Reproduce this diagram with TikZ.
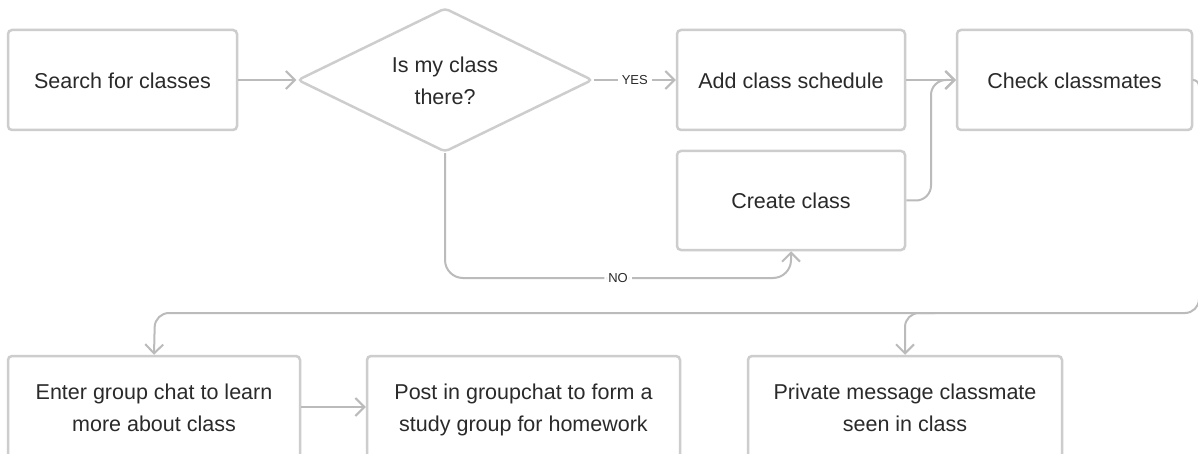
\documentclass[tikz,border=0pt]{standalone}
\usepackage{fontspec}
\setmainfont{Liberation Sans}
\usetikzlibrary{shapes.geometric,arrows.meta}
\definecolor{boxline}{HTML}{CDCDCD}
\definecolor{conn}{HTML}{BBBBBB}
\definecolor{txt}{HTML}{2A2A2A}
\newcommand\lnstrut{\rule[-7.5pt]{0pt}{32pt}}
\begin{document}
\begin{tikzpicture}[x=1pt,y=-1pt,
  box/.style={draw=boxline, line width=2.5pt, rounded corners=4pt, minimum width=229pt,
    minimum height=100pt, text=txt, font=\fontsize{21.5}{32}\selectfont, align=center, inner sep=0pt},
  dec/.style={diamond, draw=boxline, line width=2.5pt, rounded corners=4pt, aspect=2.05,
    minimum width=295pt, minimum height=144pt, text=txt, font=\fontsize{21.5}{32}\selectfont,
    align=center, inner sep=0pt},
  conn/.style={draw=conn, line width=2pt, -{Straight Barb[length=9pt,width=18pt]}},
  lbl/.style={fill=white, text=txt, font=\fontsize{13}{15}\selectfont, inner sep=4pt}
]
\useasboundingbox (0,0) rectangle (1198,454);
\fill[white] (0,0) rectangle (1198,454);

\node[box] (search) at (122.5,80) {Search for classes\lnstrut};
\node[dec] (decide) at (445,80) {Is my class\lnstrut\\there?\lnstrut};
\node[box, minimum width=228pt] (add) at (791,80) {Add class schedule\lnstrut};
\node[box, minimum width=235pt] (check) at (1074.5,80) {Check classmates\lnstrut};
\node[box, minimum width=228pt, minimum height=99pt] (create) at (791,200.5) {Create class\lnstrut};
\node[box, minimum width=292pt, minimum height=102pt] (enter) at (154,407) {Enter group chat to learn\lnstrut\\more about class\lnstrut};
\node[box, minimum width=313pt, minimum height=102pt] (post) at (523.5,407) {Post in groupchat to form a\lnstrut\\study group for homework\lnstrut};
\node[box, minimum width=314pt, minimum height=102pt] (private) at (905,407) {Private message classmate\lnstrut\\seen in class\lnstrut};

\draw[conn] (search) -- (decide.west);
\draw[conn] (decide.east) -- node[lbl] {YES} (add.west);
\draw[conn] (add) -- (check);
\draw[conn, rounded corners=15pt] (create.east) -- (931,200.5) -- (931,80) -- (check.west);
\draw[conn, rounded corners=18pt] (decide.south) -- (445,278) -- node[lbl] {NO} (791,278) -- (create.south);
\draw[conn] (check.east) [rounded corners=6pt] -- (1199,80) [rounded corners=14pt] -- (1199,313) -- (155,313) -- (enter.north);
\coordinate (br) at (935,313);
\draw[conn, rounded corners=14pt] (br) -- (905,313) -- (private.north);
\draw[conn] (enter) -- (post);
\end{tikzpicture}
\end{document}
